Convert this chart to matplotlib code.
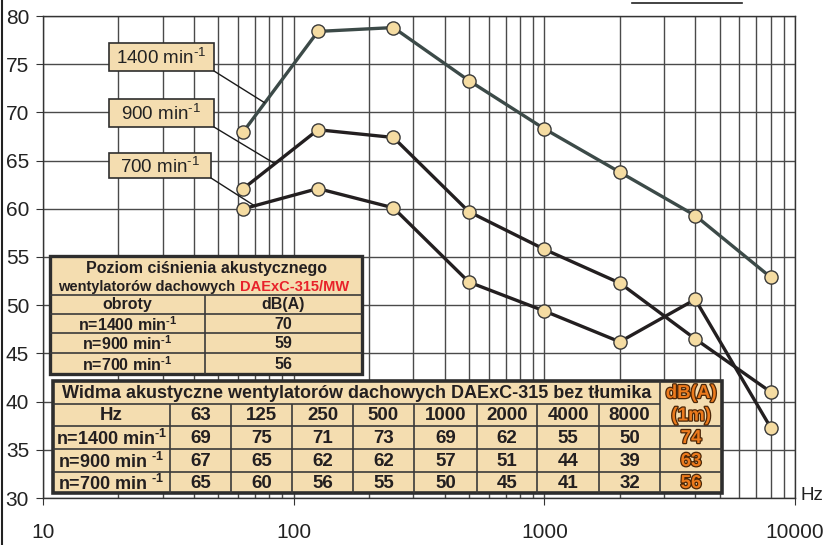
import matplotlib
matplotlib.use("Agg")
import matplotlib.pyplot as plt
import matplotlib.patheffects as pe
from matplotlib.patches import Rectangle
from matplotlib.ticker import LogLocator, FixedLocator, NullFormatter

plt.rcParams['font.family'] = ['Liberation Sans', 'DejaVu Sans']
plt.rcParams['mathtext.fontset'] = 'custom'
plt.rcParams['mathtext.rm'] = 'Liberation Sans'
plt.rcParams['mathtext.default'] = 'regular'

# ---------------- data ----------------
freqs = [63, 125, 250, 500, 1000, 2000, 4000, 8000]
curve_1400 = [68.0, 78.4, 78.8, 73.3, 68.3, 63.8, 59.3, 52.9]
curve_900 = [62.1, 68.2, 67.4, 59.7, 55.8, 52.3, 46.5, 41.0]
curve_700 = [60.0, 62.1, 60.1, 52.4, 49.4, 46.2, 50.6, 37.3]
SUP = "$^{\u2010 1}$"
speed_labels = ["1400 min" + SUP, "900 min" + SUP, "700 min" + SUP]
leader_hz = [76.6, 83.9, 69.9]
leader_db = [71.0, 64.7, 60.3]

y_ticks = [30, 35, 40, 45, 50, 55, 60, 65, 70, 75, 80]
x_ticks = [10, 100, 1000, 10000]

small_title1 = "Poziom ciśnienia akustycznego"
small_title2a = "wentylatorów dachowych "
small_title2b = "DAExC-315/MW"
small_head = ["obroty", "dB(A)"]
small_rows = ["n=1400 min" + SUP, "n=900 min" + SUP, "n=700 min" + SUP]
small_vals = ["70", "59", "56"]

big_title = "Widma akustyczne wentylatorów dachowych DAExC-315 bez tłumika"
big_hz = ["63", "125", "250", "500", "1000", "2000", "4000", "8000"]
big_rows = ["n=1400 min" + SUP, "n=900 min " + SUP, "n=700 min " + SUP]
big_vals = [
    ["69", "75", "71", "73", "69", "62", "55", "50"],
    ["67", "65", "62", "62", "57", "51", "44", "39"],
    ["65", "60", "56", "55", "50", "45", "41", "32"],
]
big_total = ["74", "63", "56"]

# ---------------- figure ----------------
W, H = 826, 545
fig = plt.figure(figsize=(W / 100, H / 100), dpi=100)
ax = fig.add_axes([43 / W, 1 - 498 / H, (795 - 43) / W, (498 - 16) / H])
ax.set_xscale('log')
ax.set_xlim(10, 10000)
ax.set_ylim(30, 80)

tick_family = ['Liberation Sans', 'DejaVu Sans']
grid_c = '#4a4a4a'
ax.xaxis.set_major_locator(FixedLocator(x_ticks))
ax.xaxis.set_minor_locator(LogLocator(base=10, subs=range(2, 10)))
ax.xaxis.set_minor_formatter(NullFormatter())
ax.set_xticklabels([str(t) for t in x_ticks])
ax.set_yticks(y_ticks)
ax.grid(True, which='major', color=grid_c, lw=1.0)
ax.grid(True, which='minor', axis='x', color=grid_c, lw=1.0)
ax.tick_params(axis='x', which='minor', length=0)
ax.tick_params(axis='x', which='major', direction='out', length=5, pad=13,
               labelsize=15, color='#333333')
ax.tick_params(axis='y', direction='out', length=5, pad=5, labelsize=15,
               color='#333333')
for lab in ax.get_xticklabels() + ax.get_yticklabels():
    lab.set_family(tick_family)
    lab.set_color('#222222')
for s in ax.spines.values():
    s.set_color('#333333')
    s.set_linewidth(1.0)
ax.set_axisbelow(True)

marker_kw = dict(marker='o', ms=9.5, mfc='#f5dca2', mec='#3a3a3a', mew=1.0)
ax.plot(freqs, curve_1400, color='#3c4a48', lw=2.4, zorder=3, **marker_kw)
ax.plot(freqs, curve_900, color='#231f20', lw=2.4, zorder=3, **marker_kw)
ax.plot(freqs, curve_700, color='#231f20', lw=2.4, zorder=3, **marker_kw)

# ---------------- overlay in pixel coords ----------------
ov = fig.add_axes([0, 0, 1, 1])
ov.set_xlim(0, W)
ov.set_ylim(H, 0)
ov.axis('off')
ov.patch.set_alpha(0)
ov.set_zorder(5)

fill = '#f4ddb0'
edge = '#2e2e2e'

def rect(x0, y0, x1, y1, lw=1.0, fc=fill, ec=edge, z=2):
    ov.add_patch(Rectangle((x0, y0), x1 - x0, y1 - y0, fc=fc, ec=ec, lw=lw,
                           zorder=z))

def hline(x0, x1, y, lw=1.2, c='#3a3a3a'):
    ov.plot([x0, x1], [y, y], color=c, lw=lw, zorder=3, solid_capstyle='butt')

def vline(x, y0, y1, lw=1.2, c='#3a3a3a'):
    ov.plot([x, x], [y0, y1], color=c, lw=lw, zorder=3, solid_capstyle='butt')

# speed label boxes with leaders
boxes = [(109, 43, 214, 71), (109, 99, 214, 127), (109, 153, 211, 178)]
for (x0, y0, x1, y1), lab, fx, fy in zip(boxes, speed_labels, leader_hz, leader_db):
    rect(x0, y0, x1, y1, lw=1.2)
    ov.text((x0 + x1) / 2, (y0 + y1) / 2 + 1, lab, ha='center', va='center',
            fontsize=13.5, color='#222222', zorder=4)
    ov.annotate('', xy=(fx, fy), xycoords=ax.transData, xytext=(x1, y1),
                textcoords='data',
                arrowprops=dict(arrowstyle='-', lw=1.0, color='#1a1a1a',
                                shrinkA=0, shrinkB=0), zorder=2)

# small table
sx0, sx1, sxm = 50, 362, 205
sy = [256, 295, 314, 333, 353, 374]
rect(sx0, sy[0], sx1, sy[-1], lw=2.4)
for yy in sy[1:-1]:
    hline(sx0, sx1, yy)
vline(sxm, sy[1], sy[-1])
fs_s = 11.5
ov.text((sx0 + sx1) / 2, 269, small_title1, ha='center', va='center',
        fontsize=fs_s, fontweight='bold', color='#231f20', zorder=4)
ov.text(239, 287, small_title2a, ha='right', va='center', fontsize=10.5,
        fontweight='bold', color='#231f20', zorder=4)
ov.text(240, 287, small_title2b, ha='left', va='center', fontsize=10.5,
        fontweight='bold', color='#e8222a', zorder=4)
ov.text((sx0 + sxm) / 2, (sy[1] + sy[2]) / 2, small_head[0], ha='center',
        va='center', fontsize=fs_s, fontweight='bold', color='#231f20', zorder=4)
ov.text((sxm + sx1) / 2, (sy[1] + sy[2]) / 2, small_head[1], ha='center',
        va='center', fontsize=fs_s, fontweight='bold', color='#231f20', zorder=4)
for i, (lab, val) in enumerate(zip(small_rows, small_vals)):
    yc = (sy[2 + i] + sy[3 + i]) / 2 + 1
    ov.text((sx0 + sxm) / 2, yc, lab, ha='center', va='center', fontsize=fs_s,
            fontweight='bold', color='#231f20', zorder=4)
    ov.text((sxm + sx1) / 2, yc, val, ha='center', va='center', fontsize=fs_s,
            fontweight='bold', color='#231f20', zorder=4)

# big table
cx = [53, 170, 231, 292, 353, 414, 477, 537, 599, 660, 722]
ry = [381, 404, 426, 449, 472, 493]
rect(cx[0], ry[0], cx[-1], ry[-1], lw=2.6)
hline(cx[0], cx[-2], ry[1])
for yy in ry[2:-1]:
    hline(cx[0], cx[-1], yy)
for xx in cx[1:-2]:
    vline(xx, ry[1], ry[-1])
vline(cx[-2], ry[0], ry[-1])
fs_b = 13.5
ov.text((cx[0] + cx[-2]) / 2, (ry[0] + ry[1]) / 2 + 1, big_title, ha='center',
        va='center', fontsize=13, fontweight='bold', color='#231f20', zorder=4)
ov.text((cx[0] + cx[1]) / 2, (ry[1] + ry[2]) / 2 + 1, "Hz", ha='center',
        va='center', fontsize=fs_b, fontweight='bold', color='#231f20', zorder=4)
for j, h in enumerate(big_hz):
    ov.text((cx[1 + j] + cx[2 + j]) / 2, (ry[1] + ry[2]) / 2 + 1, h,
            ha='center', va='center', fontsize=fs_b, fontweight='bold',
            color='#231f20', zorder=4)
orange_fx = [pe.Stroke(linewidth=1.8, foreground='#4a2608'), pe.Normal()]
ov.text((cx[-2] + cx[-1]) / 2, (ry[0] + ry[1]) / 2 + 1, "dB(A)", ha='center',
        va='center', fontsize=fs_b, fontweight='bold', color='#ec7a1c',
        zorder=4, path_effects=orange_fx)
ov.text((cx[-2] + cx[-1]) / 2, (ry[1] + ry[2]) / 2 + 1, "(1m)", ha='center',
        va='center', fontsize=fs_b, fontweight='bold', color='#ec7a1c',
        zorder=4, path_effects=orange_fx)
for i in range(3):
    yc = (ry[2 + i] + ry[3 + i]) / 2 + 1
    ov.text((cx[0] + cx[1]) / 2, yc, big_rows[i], ha='center', va='center',
            fontsize=13, fontweight='bold', color='#231f20', zorder=4)
    for j, v in enumerate(big_vals[i]):
        ov.text((cx[1 + j] + cx[2 + j]) / 2, yc, v, ha='center', va='center',
                fontsize=fs_b, fontweight='bold', color='#231f20', zorder=4)
    ov.text((cx[-2] + cx[-1]) / 2, yc, big_total[i], ha='center', va='center',
            fontsize=fs_b, fontweight='bold', color='#ec7a1c', zorder=4,
            path_effects=orange_fx)

# axis unit and frame decorations
ov.text(801, 496, "Hz", ha='left', va='center', fontsize=13.5,
        family=tick_family, color='#222222')
ov.plot([2, 2], [0, H], color='#222222', lw=1.5)
ov.plot([632, 742], [3, 3], color='#222222', lw=1.2)

fig.savefig("out.png", dpi=100)
